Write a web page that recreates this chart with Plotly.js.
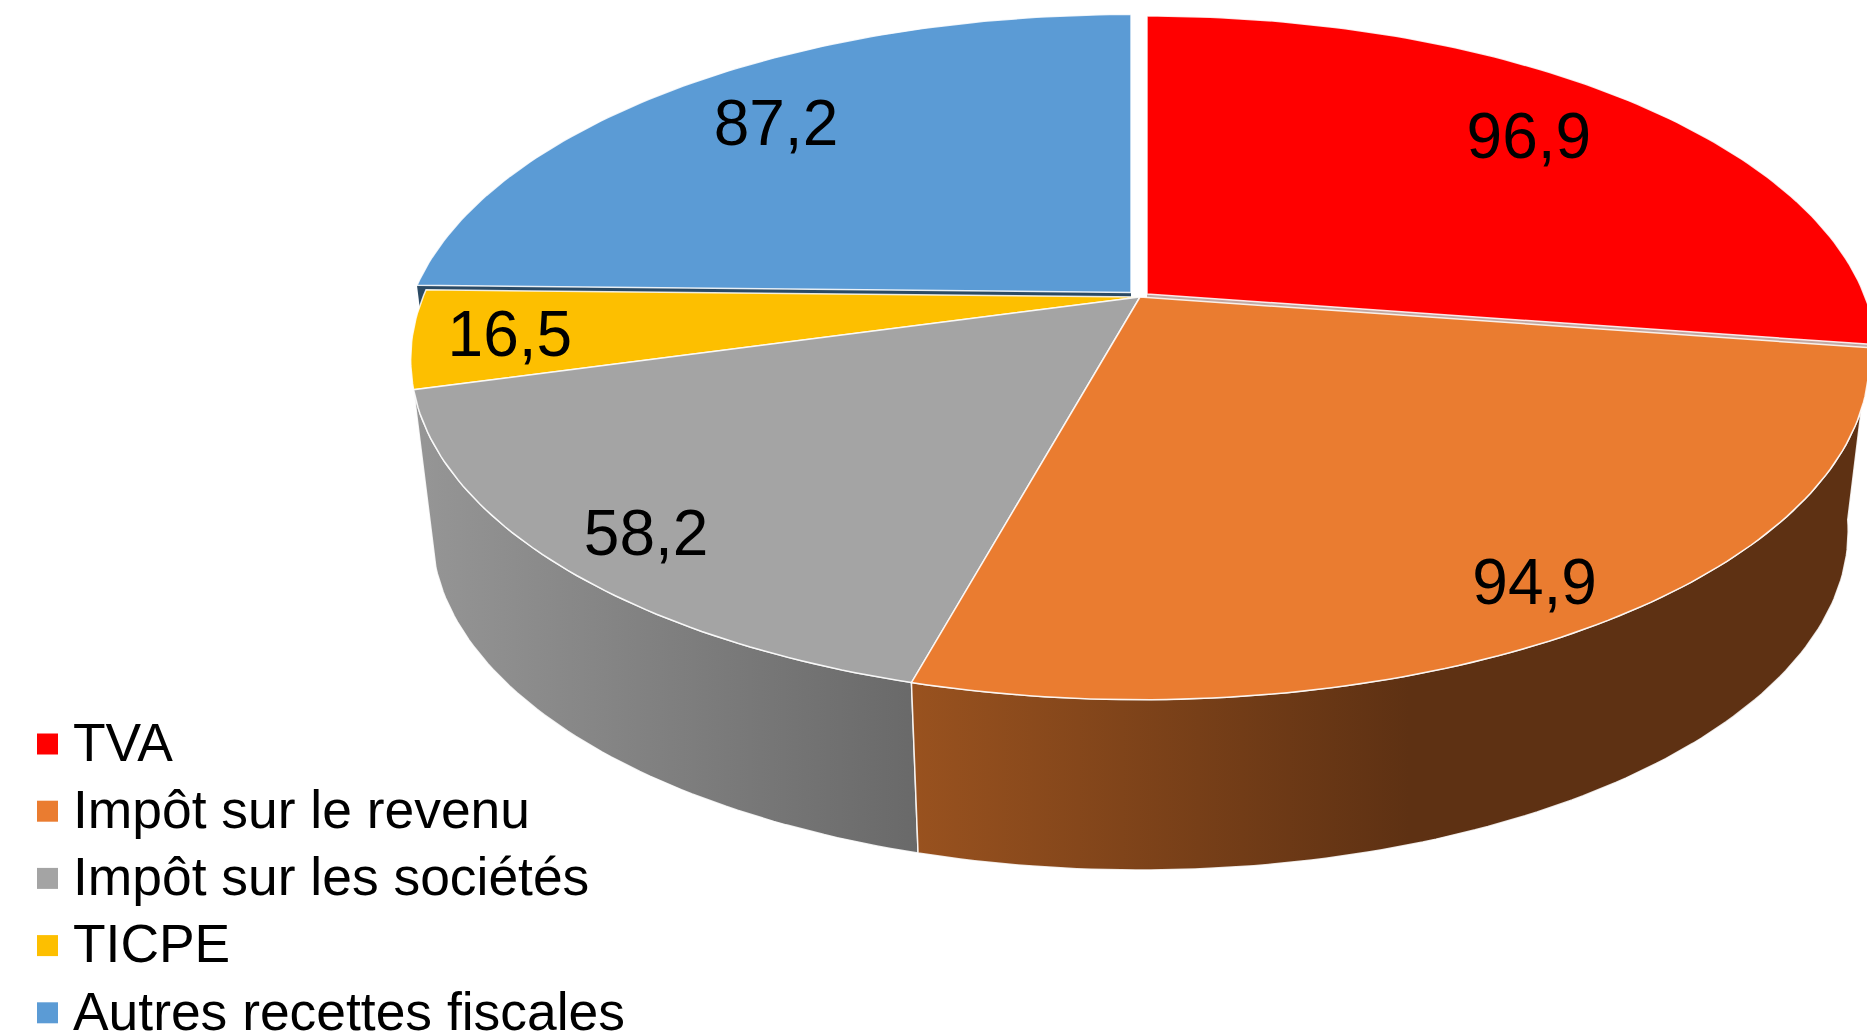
<!DOCTYPE html>
<html>
<head>
<meta charset="utf-8">
<script src="https://cdn.plot.ly/plotly-3.0.1.min.js"></script>
<style>html,body{margin:0;padding:0;background:#fff;overflow:hidden}</style>
</head>
<body>
<div id="chart" style="width:1867px;height:1034px"></div>
<script>
// Data
const categories = ["TVA", "Impôt sur le revenu", "Impôt sur les sociétés", "TICPE", "Autres recettes fiscales"];
const values = [96.9, 94.9, 58.2, 16.5, 87.2];
const valueLabels = ["96,9", "94,9", "58,2", "16,5", "87,2"];

// Styles
const colors = ["#FF0000", "#EA7C30", "#A4A4A4", "#FDBF00", "#5B9BD5"];
const explodeX = [7, 0, 0, 0, -9];
const explodeY = [-3, 0, 0, 0, -4.5];
const labelRadius = [0.771, 0.88, 0.867, 0.873, 0.79];
const labelNudgeX = [-2, -3.5, 0, 3.5, 4];
const labelNudgeY = [-1, 10.5, 14, 7, 5];

// Pie projection (tilted disc with perspective) in the 1867x1034 axis space
const cx = 1140, cy = 297, A = 717, B = 329, P = 0.183;
const shrink = 0.971, drop = 172, dropNear = 10;

function project(deg, r, i, lower) {
  const a = deg * Math.PI / 180;
  const u = r * Math.sin(a), v = r * Math.cos(a);
  const d = 1 + P * v;
  let X = A * u / d, Y = -B * v / d;
  if (lower) { X *= shrink; Y = Y * shrink + drop - dropNear * v; }
  return [cx + X + explodeX[i], cy + Y + explodeY[i]];
}
function arc(a0, a1, i, lower) {
  const n = Math.max(8, Math.ceil(Math.abs(a1 - a0)));
  const pts = [];
  for (let k = 0; k <= n; k++) pts.push(project(a0 + (a1 - a0) * k / n, 1, i, lower));
  return pts;
}
function poly(pts, fill, extra) {
  return Object.assign({
    type: "scatter", mode: "lines",
    x: pts.map(p => p[0]).concat(pts[0][0]),
    y: pts.map(p => p[1]).concat(pts[0][1]),
    fill: "toself", fillcolor: fill,
    line: {color: "rgba(255,255,255,0.85)", width: 1.5},
    hoverinfo: "skip", showlegend: false
  }, extra || {});
}

const total = values.reduce((s, v) => s + v, 0);
const starts = [], ends = [];
values.reduce((acc, v, i) => {
  starts[i] = acc; ends[i] = acc + v / total * 360; return ends[i];
}, 0);

const traces = [];

// Radial walls visible under the exploded slices
function radialWall(i, deg, color, depth) {
  const mix = (a, b) => [a[0] + (b[0] - a[0]) * depth, a[1] + (b[1] - a[1]) * depth];
  const tipT = project(0, 0, i, false), edgeT = project(deg, 1, i, false);
  const pts = [tipT, edgeT, mix(edgeT, project(deg, 1, i, true)), mix(tipT, project(0, 0, i, true))];
  return poly(pts, color, {line: {color: color, width: 0}});
}
traces.push(radialWall(4, starts[4], "#2B4A64", 1));
traces.push(radialWall(0, ends[0], "#C4A8A2", 0.05));

// Outer walls
const wallGradients = {
  1: [[0, "#99521F"], [0.52, "#5E3113"], [1, "#5E3113"]],
  2: [[0, "#969696"], [1, "#696969"]]
};
[2, 1].forEach(i => {
  const top = arc(starts[i], ends[i], i, false);
  const bottom = arc(ends[i], starts[i], i, true);
  traces.push(poly(top.concat(bottom), colors[i], {
    name: categories[i] + " (côté)",
    fillgradient: {type: "horizontal", colorscale: wallGradients[i]}
  }));
});

// Top faces
[3, 2, 1, 0, 4].forEach(i => {
  const pts = [project(0, 0, i, false)].concat(arc(starts[i], ends[i], i, false));
  traces.push(poly(pts, colors[i], {name: categories[i]}));
});

// Value labels
const labelPts = values.map((v, i) => project((starts[i] + ends[i]) / 2, labelRadius[i], i, false));
traces.push({
  type: "scatter", mode: "text",
  x: labelPts.map((p, i) => p[0] + labelNudgeX[i]), y: labelPts.map((p, i) => p[1] + labelNudgeY[i]),
  text: valueLabels, textposition: "middle center",
  textfont: {family: "Liberation Sans, Arial, sans-serif", size: 64, color: "#000"},
  hoverinfo: "skip", showlegend: false, cliponaxis: false
});

// Legend column
const legendMarkerX = 47.5, legendTextX = 73, legendTop = 744, legendTextDrop = 3.5, legendStep = 67.2;
const legendY = categories.map((c, i) => legendTop + i * legendStep);
traces.push({
  type: "scatter", mode: "markers",
  x: categories.map(() => legendMarkerX), y: legendY,
  marker: {symbol: "square", size: 21, color: colors, line: {width: 0}},
  hoverinfo: "skip", showlegend: false, cliponaxis: false
});
traces.push({
  type: "scatter", mode: "text",
  x: categories.map(() => legendTextX), y: legendY.map(y => y + legendTextDrop),
  text: categories, textposition: "middle right",
  textfont: {family: "Liberation Sans, Arial, sans-serif", size: 53.4, color: "#000"},
  hoverinfo: "skip", showlegend: false, cliponaxis: false
});

Plotly.newPlot("chart", traces, {
  width: 1867, height: 1034,
  margin: {l: 0, r: 0, t: 0, b: 0},
  paper_bgcolor: "#fff", plot_bgcolor: "#fff",
  showlegend: false,
  xaxis: {range: [0, 1867], visible: false, fixedrange: true},
  yaxis: {range: [1034, 0], visible: false, fixedrange: true}
}, {displayModeBar: false, staticPlot: true});
</script>
</body>
</html>
